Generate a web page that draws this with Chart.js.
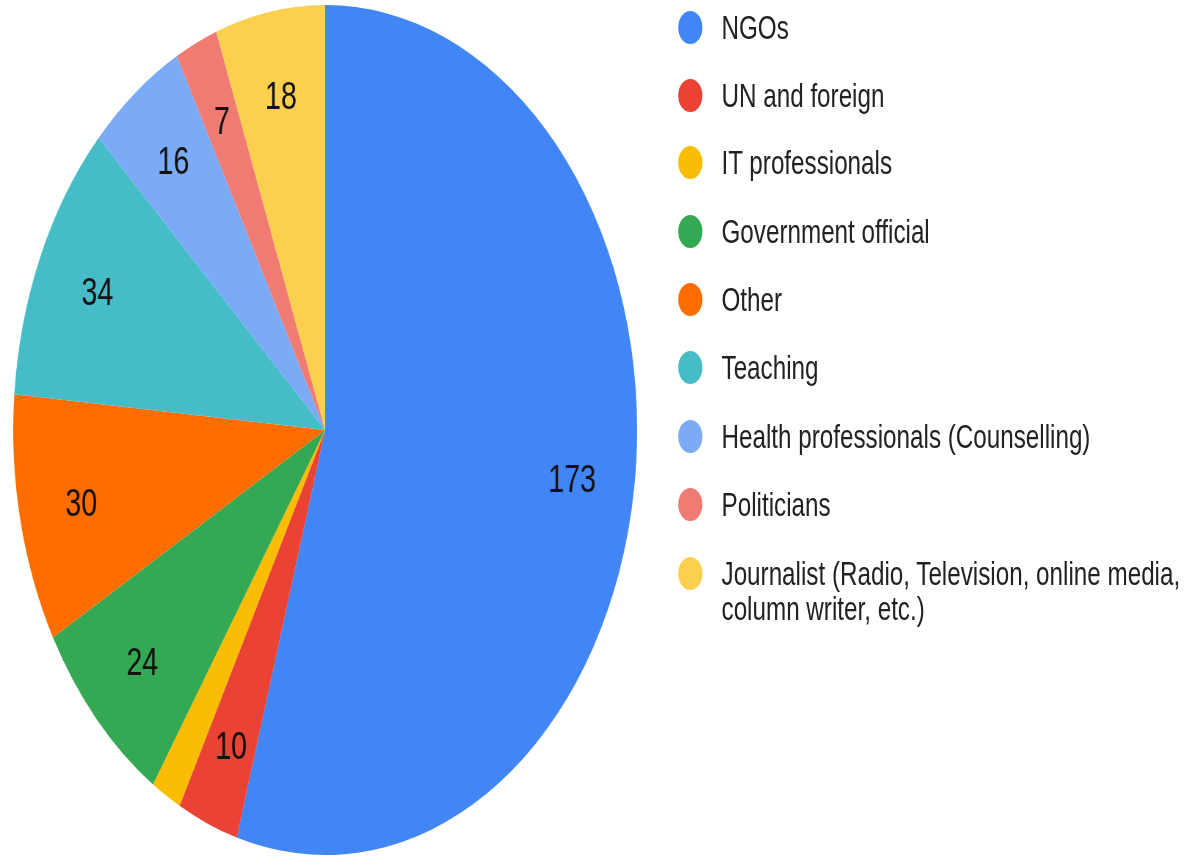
<!DOCTYPE html>
<html>
<head>
<meta charset="utf-8">
<script src="https://cdn.jsdelivr.net/npm/chart.js@4"></script>
<style>
  html, body { margin: 0; padding: 0; background: #fff; overflow: hidden; }
  #stage { position: absolute; left: 0; top: 0; width: 1633px; height: 856px;
           transform: scale(0.734, 1); transform-origin: 0 0; }
  #chartBox { position: absolute; left: 0; top: 0; width: 886px; height: 856px; }
  #legend { position: absolute; left: 924px; top: 0; font-family: "Liberation Sans", Arial, sans-serif;
            font-size: 33px; color: #222; }
  .item { position: absolute; left: 0; white-space: nowrap; line-height: 35px; }
  .dot { position: absolute; left: 0; width: 33px; height: 33px; border-radius: 50%; }
  .txt { position: absolute; left: 59px; }
</style>
</head>
<body>
<div id="stage">
  <div id="chartBox"><canvas id="c" width="886" height="856"></canvas></div>
  <div id="legend"></div>
</div>
<script>
const categories = ["NGOs", "UN and foreign", "IT professionals", "Government official", "Other",
  "Teaching", "Health professionals (Counselling)", "Politicians",
  "Journalist (Radio, Television, online media, column writer, etc.)"];
const legendLines = [["NGOs"], ["UN and foreign"], ["IT professionals"], ["Government official"], ["Other"],
  ["Teaching"], ["Health professionals (Counselling)"], ["Politicians"],
  ["Journalist (Radio, Television, online media,", "column writer, etc.)"]];
const counts = [173, 10, 5, 24, 30, 34, 16, 7, 18];
const colors = ["#4285F4", "#EA4335", "#FBBC04", "#34A853", "#FF6D01", "#46BDC6", "#7BAAF7", "#F07B72", "#FCD04F"];

// HTML legend
const legendEl = document.getElementById('legend');
const rowTop = [10, 78, 145, 214, 282, 350, 419, 487, 556];
categories.forEach((c, i) => {
  const it = document.createElement('div');
  it.className = 'item';
  it.style.top = rowTop[i] + 'px';
  const d = document.createElement('div');
  d.className = 'dot';
  d.style.background = colors[i];
  d.style.top = '1px';
  const t = document.createElement('div');
  t.className = 'txt';
  t.innerHTML = legendLines[i].join('<br>');
  it.appendChild(d); it.appendChild(t);
  legendEl.appendChild(it);
});

const sliceLabels = {
  id: 'sliceLabels',
  afterDatasetsDraw(chart) {
    const ctx = chart.ctx;
    const meta = chart.getDatasetMeta(0);
    const data = chart.data.datasets[0].data;
    ctx.save();
    ctx.font = '39px "Liberation Sans", Arial, sans-serif';
    ctx.fillStyle = '#111';
    ctx.textAlign = 'center';
    ctx.textBaseline = 'middle';
    meta.data.forEach((arc, i) => {
      if (data[i] < 6) return;
      const p = arc.getProps(['x', 'y', 'startAngle', 'endAngle', 'outerRadius'], true);
      const mid = (p.startAngle + p.endAngle) / 2;
      const r = p.outerRadius * 0.8;
      ctx.fillText(String(data[i]), p.x + Math.cos(mid) * r, p.y + Math.sin(mid) * r + 3);
    });
    ctx.restore();
  }
};

new Chart(document.getElementById('c'), {
  type: 'pie',
  data: {
    labels: categories,
    datasets: [{ data: counts, backgroundColor: colors, borderWidth: 0 }]
  },
  options: {
    responsive: false,
    animation: false,
    devicePixelRatio: 1,
    layout: { padding: { top: 5, bottom: 1, left: 18, right: 18 } },
    plugins: { legend: { display: false }, tooltip: { enabled: false } }
  },
  plugins: [sliceLabels]
});
</script>
</body>
</html>
